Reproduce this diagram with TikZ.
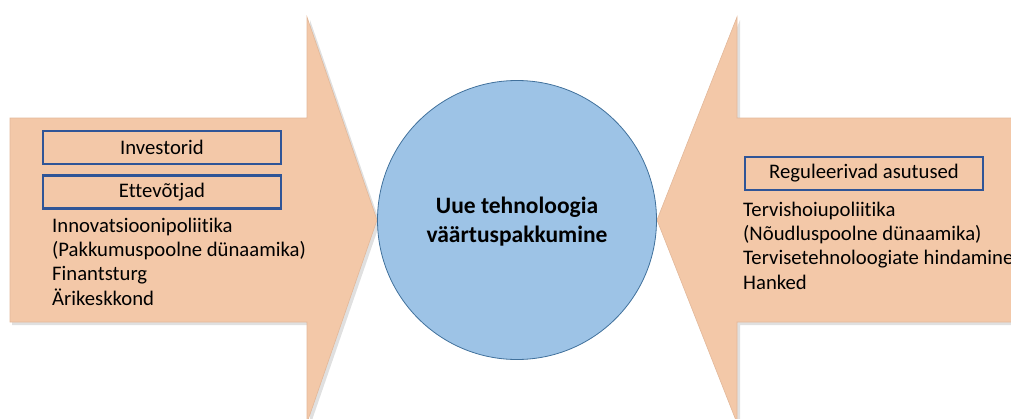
\documentclass[tikz,border=0pt]{standalone}
\usepackage{fontspec}
\setmainfont[Ligatures=NoCommon]{Carlito}
\usetikzlibrary{positioning}
\definecolor{virsik}{RGB}{243,200,168}
\definecolor{virsikserv}{RGB}{226,184,154}
\definecolor{ringsin}{RGB}{157,195,230}
\definecolor{ringjoon}{RGB}{65,113,156}
\definecolor{kastsin}{RGB}{47,85,151}
\newcommand{\tekst}{\fontsize{20.7}{24.4}\selectfont}
\newcommand{\suurtekst}{\fontsize{23.5}{29}\selectfont}
\tikzset{
  nool/.style={fill=virsik,draw=virsikserv,line width=0.6pt,line join=miter},
  vari/.style={fill=black,opacity=0.12},
  kast/.style={draw=kastsin,line width=2.4pt,minimum width=238pt,minimum height=33pt,inner sep=0pt,font=\tekst},
  loend/.style={align=left,anchor=north west,inner sep=0pt,font=\tekst},
}

\begin{document}
\begin{tikzpicture}[x=1pt,y=-1pt]
  \useasboundingbox (0,0) rectangle (1011,418);
  % noolte varjud
  \fill[vari] (12,121) -- (310,121) -- (310,20) -- (380,223) -- (310,426) -- (310,325) -- (12,325) -- cycle;
  \fill[vari] (1020,121) -- (740,121) -- (740,20) -- (660,223) -- (740,426) -- (740,325) -- (1020,325) -- cycle;
  % vasak ja parem nool
  \draw[nool] (10,118) -- (307,118) -- (307,17) -- (377,220) -- (307,423) -- (307,322) -- (10,322) -- cycle;
  \draw[nool] (1020,118) -- (737,118) -- (737,17) -- (657,220) -- (737,423) -- (737,322) -- (1020,322) -- cycle;
  % keskmine ring
  \node[circle,draw=ringjoon,fill=ringsin,line width=0.8pt,minimum size=279pt,inner sep=0pt] (ring) at (517,220) {};
  \node[font=\suurtekst\bfseries,align=center] (pakkumine) at (517,222) {Uue tehnoloogia\\väärtuspakkumine};
  % vasak pool
  \node[kast] (investorid) at (162,147.5) {Investorid};
  \node[kast,below=9pt of investorid] (ettevotjad) {Ettevõtjad};
  \node[loend] (vasakloend) at (52,217.5)
    {Innovatsioonipoliitika\\(Pakkumuspoolne dünaamika)\\Finantsturg\\Ärikeskkond};
  % parem pool
  \node[kast] (reguleerivad) at (864,173.5) {Reguleerivad asutused};
  \node[loend] (paremloend) at (743,201.5)
    {Tervishoiupoliitika\\(Nõudluspoolne dünaamika)\\Tervisetehnoloogiate hindamine\\Hanked};
\end{tikzpicture}
\end{document}
